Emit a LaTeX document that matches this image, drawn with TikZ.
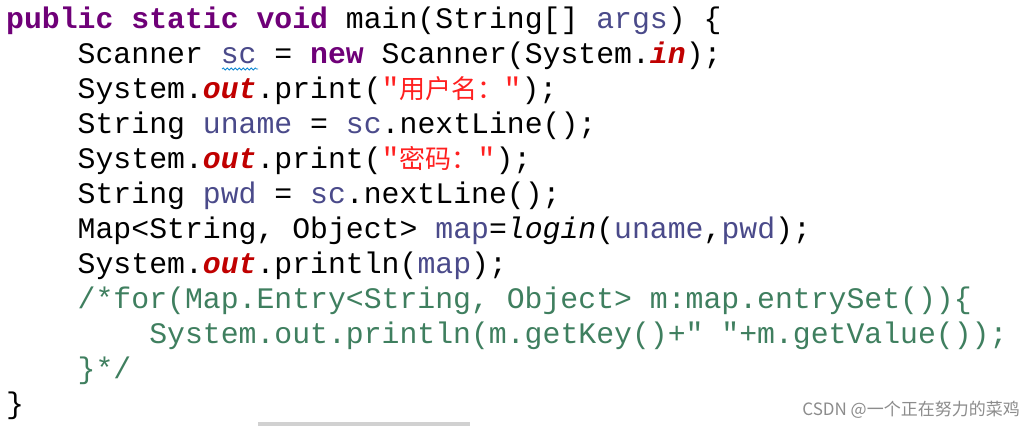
\documentclass[tikz,border=0pt]{standalone}
\usepackage{fontspec}
\usetikzlibrary{decorations.pathmorphing}
\setmonofont{Liberation Mono}
\newfontfamily\cjk{Noto Sans CJK SC}
\definecolor{kw}{HTML}{6F0078}
\definecolor{fld}{HTML}{C00000}
\definecolor{var}{HTML}{4A4A8A}
\definecolor{str}{HTML}{FF2020}
\definecolor{cmt}{HTML}{3F7F5F}
\newcommand{\K}[1]{\textcolor{kw}{\bfseries #1}}
\newcommand{\F}[1]{\textcolor{fld}{\bfseries\itshape #1}}
\newcommand{\V}[1]{\textcolor{var}{#1}}
\newcommand{\Sx}[1]{\textcolor{str}{"{\cjk\fontsize{26}{26}\selectfont #1}"}}
\begin{document}
\begin{tikzpicture}[x=1pt,y=-1pt,
  codeline/.style={anchor=base west,inner sep=0pt,font=\ttfamily\fontsize{29.8}{30}\selectfont}]
\useasboundingbox[fill=white] (0,0) rectangle (1035,426);
\node[codeline] (l1) at (6,28) {\K{public} \K{static} \K{void} main(String[] \V{args}) \{};
\node[codeline] (l2) at (6,63) {\phantom{xxxx}Scanner \V{sc} = \K{new} Scanner(System.\F{in});};
\node[codeline] (l3) at (6,98) {\phantom{xxxx}System.\F{out}.print(\Sx{用户名：});};
\node[codeline] (l4) at (6,133) {\phantom{xxxx}String \V{uname} = \V{sc}.nextLine();};
\node[codeline] (l5) at (6,168) {\phantom{xxxx}System.\F{out}.print(\Sx{密码：});};
\node[codeline] (l6) at (6,203) {\phantom{xxxx}String \V{pwd} = \V{sc}.nextLine();};
\node[codeline] (l7) at (6,238) {\phantom{xxxx}Map<String, Object> \V{map}={\itshape login}(\V{uname},\V{pwd});};
\node[codeline] (l8) at (6,273) {\phantom{xxxx}System.\F{out}.println(\V{map});};
\node[codeline,text=cmt] (l9) at (6,308) {\phantom{xxxx}/*for(Map.Entry<String, Object> m:map.entrySet())\{};
\node[codeline,text=cmt] (l10) at (6,343) {\phantom{xxxxxxxx}System.out.println(m.getKey()+" "+m.getValue());};
\node[codeline,text=cmt] (l11) at (6,378) {\phantom{xxxx}\}*/};
\node[codeline] (l12) at (6,413) {\}};
\draw[cyan!70!blue,line width=0.8pt,decorate,decoration={snake,amplitude=1pt,segment length=4pt}] (222,69) -- (258,69);
\fill[black!18] (258,422) rectangle (470,426);
\node[anchor=base east,inner sep=0pt,text=black!45,font=\cjk\fontsize{17}{17}\selectfont] (wm) at (1020,415) {CSDN @一个正在努力的菜鸡};
\end{tikzpicture}
\end{document}
